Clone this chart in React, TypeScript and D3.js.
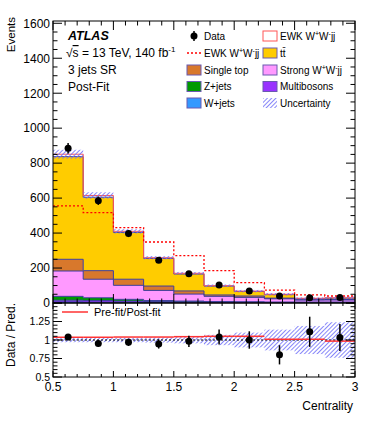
import React, { useEffect, useRef } from 'react';
import * as d3 from 'd3';

// bin edges in centrality
const binEdges = [0.5, 0.75, 1.0, 1.25, 1.5, 1.75, 2.0, 2.25, 2.5, 2.75, 3.0];

// post-fit stack, bottom to top
const wJets = [6, 5, 4, 3, 3, 2, 2, 2, 2, 2];
const multibosons = [10, 9, 7, 5, 4, 3, 3, 2, 2, 2];
const zJets = [22, 16, 10, 6, 4, 3, 2, 1, 1, 1];
const strongWW = [145, 106, 80, 58, 40, 30, 25, 19, 12, 12];
const singleTop = [67, 49, 35, 25, 18, 8, 8, 4, 2, 3];
const ttbar = [587, 420, 268, 158, 97, 51, 26, 20, 6, 8];
const ewkWW = [14, 10, 6, 4, 4, 2, 2, 2, 2, 2];

// dashed EWK W+W-jj overlay
const ewkDashed = [555, 517, 431, 349, 271, 185, 116, 74, 46, 40];

const dataValues = [885, 585, 397, 245, 167, 103, 68, 40, 30, 31];
const dataErrors = [30, 24, 20, 16, 13, 10, 8, 6.5, 5.5, 5.5];

// relative uncertainty of the prediction
const uncRel = [0.03, 0.03, 0.03, 0.035, 0.045, 0.07, 0.1, 0.14, 0.19, 0.24];

// pre-fit / post-fit ratio
const preFitRatio = [1.037, 1.037, 1.04, 1.04, 1.045, 1.05, 1.05, 1.01, 1.01, 0.985];

const mainYTicks = [0, 200, 400, 600, 800, 1000, 1200, 1400, 1600];
const ratioYTicks = [0.5, 0.75, 1, 1.25];
const ratioYLabels = ['0.5', '0.75', '1', '1.25'];
const xTickValues = [0.5, 1, 1.5, 2, 2.5, 3];
const xTickLabels = ['0.5', '1', '1.5', '2', '2.5', '3'];

const layers = [
  { key: 'wJets', values: wJets, color: '#3399ff', line: '#3c3c9c' },
  { key: 'multibosons', values: multibosons, color: '#9933ff', line: '#3c3c9c' },
  { key: 'zJets', values: zJets, color: '#009a00', line: '#3c3c9c' },
  { key: 'strongWW', values: strongWW, color: '#ff99ff', line: '#3c3c9c' },
  { key: 'singleTop', values: singleTop, color: '#d8782c', line: '#3c3c9c' },
  { key: 'ttbar', values: ttbar, color: '#ffcc00', line: '#3c3c9c' },
  { key: 'ewkWW', values: ewkWW, color: '#ffffff', line: '#ff5555' },
];

const FONT = '"Liberation Sans", Arial, Helvetica, sans-serif';
const HATCH = '#7272f8';

const App = () => {
  const svgRef = useRef<SVGSVGElement | null>(null);

  const width = 374;
  const height = 421;
  const x0 = 53;
  const x1 = 355;
  const mainTop = 21;
  const mainBottom = 303;
  const ratioTop = 303;
  const ratioBottom = 377;

  useEffect(() => {
    const svg = d3.select(svgRef.current);
    svg.selectAll('*').remove();

    const xScale = d3.scaleLinear().domain([0.5, 3]).range([x0, x1]);
    const yMain = d3.scaleLinear().domain([0, 1613]).range([mainBottom, mainTop]);
    const yRatio = d3.scaleLinear().domain([0.5, 1.5]).range([ratioBottom, ratioTop]);

    const nBins = binEdges.length - 1;
    const bins = d3.range(nBins);

    // hatch pattern: thin vertical bars rotated into "/"
    const defs = svg.append('defs');
    const pat = defs.append('pattern')
      .attr('id', 'hatch')
      .attr('patternUnits', 'userSpaceOnUse')
      .attr('width', 3)
      .attr('height', 3)
      .attr('patternTransform', 'rotate(45)');
    pat.append('rect')
      .attr('x', 0).attr('y', 0)
      .attr('width', 0.85).attr('height', 3)
      .attr('fill', HATCH);
    defs.append('clipPath').attr('id', 'clipMain')
      .append('rect').attr('x', x0).attr('y', mainTop).attr('width', x1 - x0).attr('height', mainBottom - mainTop);
    defs.append('clipPath').attr('id', 'clipRatio')
      .append('rect').attr('x', x0).attr('y', ratioTop).attr('width', x1 - x0).attr('height', ratioBottom - ratioTop);

    // stack table
    const table = bins.map(i => {
      const row: any = { bin: i };
      layers.forEach(l => { row[l.key] = l.values[i]; });
      return row;
    });
    const stacked = d3.stack().keys(layers.map(l => l.key))(table);
    const total = bins.map(i => d3.sum(layers, l => l.values[i]));

    // doubled points for step shapes
    const stepPts = (lo: (i: number) => number, hi: (i: number) => number) => {
      const pts: any[] = [];
      bins.forEach(i => {
        pts.push({ x: binEdges[i], y0: lo(i), y1: hi(i) });
        pts.push({ x: binEdges[i + 1], y0: lo(i), y1: hi(i) });
      });
      return pts;
    };

    const area = d3.area<any>()
      .x(d => xScale(d.x))
      .y0(d => yMain(d.y0))
      .y1(d => yMain(d.y1));
    const line = d3.line<any>()
      .x(d => xScale(d.x))
      .y(d => yMain(d.y1));

    const main = svg.append('g').attr('clip-path', 'url(#clipMain)');

    // fills
    stacked.forEach((s, k) => {
      const pts = stepPts(i => s[i][0], i => s[i][1]);
      main.append('path')
        .attr('d', area(pts))
        .attr('fill', layers[k].color);
    });
    // outlines
    stacked.forEach((s, k) => {
      const pts = stepPts(i => s[i][0], i => s[i][1]);
      main.append('path')
        .attr('d', line(pts))
        .attr('fill', 'none')
        .attr('stroke', layers[k].line)
        .attr('stroke-width', 1);
    });

    // uncertainty band on the stack
    bins.forEach(i => {
      const up = total[i] * (1 + uncRel[i]);
      const dn = total[i] * (1 - uncRel[i]);
      main.append('rect')
        .attr('x', xScale(binEdges[i]))
        .attr('width', xScale(binEdges[i + 1]) - xScale(binEdges[i]))
        .attr('y', yMain(up))
        .attr('height', yMain(dn) - yMain(up))
        .attr('fill', 'url(#hatch)');
    });

    // dashed EWK overlay
    main.append('path')
      .attr('d', line(stepPts(() => 0, i => ewkDashed[i])))
      .attr('fill', 'none')
      .attr('stroke', '#ff0000')
      .attr('stroke-width', 1.3)
      .attr('stroke-dasharray', '2,2');

    // data
    bins.forEach(i => {
      const cx = xScale((binEdges[i] + binEdges[i + 1]) / 2);
      svg.append('line')
        .attr('x1', cx).attr('x2', cx)
        .attr('y1', yMain(dataValues[i] + dataErrors[i]))
        .attr('y2', yMain(dataValues[i] - dataErrors[i]))
        .attr('stroke', '#000').attr('stroke-width', 1.5);
      svg.append('circle')
        .attr('cx', cx).attr('cy', yMain(dataValues[i]))
        .attr('r', 3.5).attr('fill', '#000');
    });

    // ---- ratio panel ----
    const ratio = svg.append('g').attr('clip-path', 'url(#clipRatio)');
    bins.forEach(i => {
      ratio.append('rect')
        .attr('x', xScale(binEdges[i]))
        .attr('width', xScale(binEdges[i + 1]) - xScale(binEdges[i]))
        .attr('y', yRatio(1 + uncRel[i]))
        .attr('height', yRatio(1 - uncRel[i]) - yRatio(1 + uncRel[i]))
        .attr('fill', 'url(#hatch)');
    });
    ratio.append('line')
      .attr('x1', x0).attr('x2', x1)
      .attr('y1', yRatio(1)).attr('y2', yRatio(1))
      .attr('stroke', '#000').attr('stroke-width', 1)
      .attr('stroke-dasharray', '2,2');
    bins.forEach(i => {
      ratio.append('line')
        .attr('x1', xScale(binEdges[i])).attr('x2', xScale(binEdges[i + 1]))
        .attr('y1', yRatio(preFitRatio[i])).attr('y2', yRatio(preFitRatio[i]))
        .attr('stroke', '#ff3333').attr('stroke-width', 1.5);
    });
    bins.forEach(i => {
      const cx = xScale((binEdges[i] + binEdges[i + 1]) / 2);
      const r = dataValues[i] / total[i];
      const e = dataErrors[i] / total[i];
      ratio.append('line')
        .attr('x1', cx).attr('x2', cx)
        .attr('y1', yRatio(r + e)).attr('y2', yRatio(r - e))
        .attr('stroke', '#000').attr('stroke-width', 1.5);
      ratio.append('circle')
        .attr('cx', cx).attr('cy', yRatio(r))
        .attr('r', 3.5).attr('fill', '#000');
    });

    // ---- frames and ticks ----
    const ax = svg.append('g').attr('stroke', '#000').attr('stroke-width', 1);
    [[mainTop, mainBottom], [ratioTop, ratioBottom]].forEach(([t, b]) => {
      ax.append('rect')
        .attr('x', x0).attr('y', t)
        .attr('width', x1 - x0).attr('height', b - t)
        .attr('fill', 'none');
    });

    const tick = (xa: number, ya: number, xb: number, yb: number) => {
      ax.append('line').attr('x1', xa).attr('y1', ya).attr('x2', xb).attr('y2', yb);
    };

    // x ticks, both panels
    for (let k = 5; k <= 30; k++) {
      const x = xScale(k / 10);
      const major = k % 5 === 0;
      const lm = major ? 9 : 4.5;
      const lr = major ? 6 : 3;
      tick(x, mainBottom, x, mainBottom - lm);
      tick(x, mainTop, x, mainTop + lm);
      tick(x, ratioBottom, x, ratioBottom - lr);
      tick(x, ratioTop, x, ratioTop + lr);
    }
    // y ticks main
    for (let v = 0; v <= 1600; v += 50) {
      const y = yMain(v);
      const len = v % 200 === 0 ? 9 : 4.5;
      tick(x0, y, x0 + len, y);
      tick(x1, y, x1 - len, y);
    }
    // y ticks ratio
    for (let k = 10; k <= 30; k++) {
      const y = yRatio(k / 20);
      const len = k % 5 === 0 ? 9 : 4.5;
      tick(x0, y, x0 + len, y);
      tick(x1, y, x1 - len, y);
    }

    // ---- labels ----
    const txt = svg.append('g').attr('font-family', FONT).attr('fill', '#000');

    mainYTicks.forEach(v => {
      txt.append('text')
        .attr('x', 50).attr('y', yMain(v)).attr('dy', '0.36em')
        .attr('text-anchor', 'end').attr('font-size', 12)
        .text(v);
    });
    ratioYTicks.forEach((v, i) => {
      txt.append('text')
        .attr('x', 50).attr('y', yRatio(v)).attr('dy', '0.36em')
        .attr('text-anchor', 'end').attr('font-size', 10.5)
        .text(ratioYLabels[i]);
    });
    xTickValues.forEach((v, i) => {
      txt.append('text')
        .attr('x', xScale(v)).attr('y', 391)
        .attr('text-anchor', 'middle').attr('font-size', 12)
        .text(xTickLabels[i]);
    });
    txt.append('text')
      .attr('x', 353).attr('y', 410)
      .attr('text-anchor', 'end').attr('font-size', 12)
      .text('Centrality');
    txt.append('text')
      .attr('transform', 'translate(15,17) rotate(-90)')
      .attr('text-anchor', 'end').attr('font-size', 11.5)
      .text('Events');
    txt.append('text')
      .attr('transform', `translate(15,${ratioTop}) rotate(-90)`)
      .attr('text-anchor', 'end').attr('font-size', 12)
      .text('Data / Pred.');

    // ATLAS block
    txt.append('text')
      .attr('x', 68).attr('y', 40)
      .attr('font-size', 12.5).attr('font-weight', 'bold').attr('font-style', 'italic')
      .text('ATLAS');
    const sq = txt.append('text').attr('x', 66).attr('y', 57).attr('font-size', 12);
    sq.append('tspan').text('√');
    sq.append('tspan').attr('text-decoration', 'overline').text('s');
    sq.append('tspan').text(' = 13 TeV, 140 fb');
    sq.append('tspan').attr('font-size', 8).attr('dy', -5).text('-1');
    txt.append('text').attr('x', 68).attr('y', 74).attr('font-size', 12).text('3 jets SR');
    txt.append('text').attr('x', 68).attr('y', 90.5).attr('font-size', 12).text('Post-Fit');

    // legend
    const ewkLabel = (g: any, x: number, y: number) => {
      const t = g.append('text').attr('x', x).attr('y', y).attr('dy', '0.36em').attr('font-size', 10);
      t.append('tspan').text('EWK W');
      t.append('tspan').attr('font-size', 7).attr('dy', -4).text('+');
      t.append('tspan').attr('dy', 4).text('W');
      t.append('tspan').attr('font-size', 7).attr('dy', -4).text('-');
      t.append('tspan').attr('dy', 4).text('jj');
    };
    const rows = [36, 53, 70, 86.5, 103];
    const c1 = 187;
    const c2 = 263;
    const box = (x: number, y: number, fill: string, stroke: string) => {
      svg.append('rect')
        .attr('x', x).attr('y', y - 5)
        .attr('width', 14).attr('height', 10)
        .attr('fill', fill).attr('stroke', stroke).attr('stroke-width', 1);
    };

    svg.append('line').attr('x1', c1 + 7).attr('x2', c1 + 7)
      .attr('y1', rows[0] - 5).attr('y2', rows[0] + 5)
      .attr('stroke', '#000').attr('stroke-width', 1.5);
    svg.append('circle').attr('cx', c1 + 7).attr('cy', rows[0]).attr('r', 3.5).attr('fill', '#000');
    txt.append('text').attr('x', c1 + 17).attr('y', rows[0]).attr('dy', '0.36em').attr('font-size', 10).text('Data');

    svg.append('line').attr('x1', c1).attr('x2', c1 + 14)
      .attr('y1', rows[1]).attr('y2', rows[1])
      .attr('stroke', '#ff0000').attr('stroke-width', 1.3).attr('stroke-dasharray', '2,2');
    ewkLabel(txt, c1 + 17, rows[1]);

    box(c1, rows[2], '#d8782c', '#6a5ab0');
    txt.append('text').attr('x', c1 + 17).attr('y', rows[2]).attr('dy', '0.36em').attr('font-size', 10).text('Single top');
    box(c1, rows[3], '#009a00', '#6a5ab0');
    txt.append('text').attr('x', c1 + 17).attr('y', rows[3]).attr('dy', '0.36em').attr('font-size', 10).text('Z+jets');
    box(c1, rows[4], '#3399ff', '#6a5ab0');
    txt.append('text').attr('x', c1 + 17).attr('y', rows[4]).attr('dy', '0.36em').attr('font-size', 10).text('W+jets');

    box(c2, rows[0], '#ffffff', '#ff5555');
    ewkLabel(txt, c2 + 17, rows[0]);
    box(c2, rows[1], '#ffcc00', '#6a5ab0');
    txt.append('text').attr('x', c2 + 17).attr('y', rows[1]).attr('dy', '0.36em').attr('font-size', 10).text('tt\u0304');
    box(c2, rows[2], '#ff99ff', '#6a5ab0');
    const st = txt.append('text').attr('x', c2 + 17).attr('y', rows[2]).attr('dy', '0.36em').attr('font-size', 10);
    st.append('tspan').text('Strong W');
    st.append('tspan').attr('font-size', 7).attr('dy', -4).text('+');
    st.append('tspan').attr('dy', 4).text('W');
    st.append('tspan').attr('font-size', 7).attr('dy', -4).text('-');
    st.append('tspan').attr('dy', 4).text('jj');
    box(c2, rows[3], '#9933ff', '#6a5ab0');
    txt.append('text').attr('x', c2 + 17).attr('y', rows[3]).attr('dy', '0.36em').attr('font-size', 10).text('Multibosons');
    svg.append('rect').attr('x', c2).attr('y', rows[4] - 5).attr('width', 14).attr('height', 10).attr('fill', 'url(#hatch)');
    txt.append('text').attr('x', c2 + 17).attr('y', rows[4]).attr('dy', '0.36em').attr('font-size', 10).text('Uncertainty');

    // ratio legend
    svg.append('line').attr('x1', 62).attr('x2', 88).attr('y1', 312).attr('y2', 312)
      .attr('stroke', '#ff3333').attr('stroke-width', 1.5);
    txt.append('text').attr('x', 94).attr('y', 312).attr('dy', '0.36em').attr('font-size', 11).text('Pre-fit/Post-fit');
  }, []);

  return (
    <svg
      ref={svgRef}
      width={width}
      height={height}
      style={{ position: 'absolute', left: 0, top: 0, background: '#fff' }}
    ></svg>
  );
};

export default App;
